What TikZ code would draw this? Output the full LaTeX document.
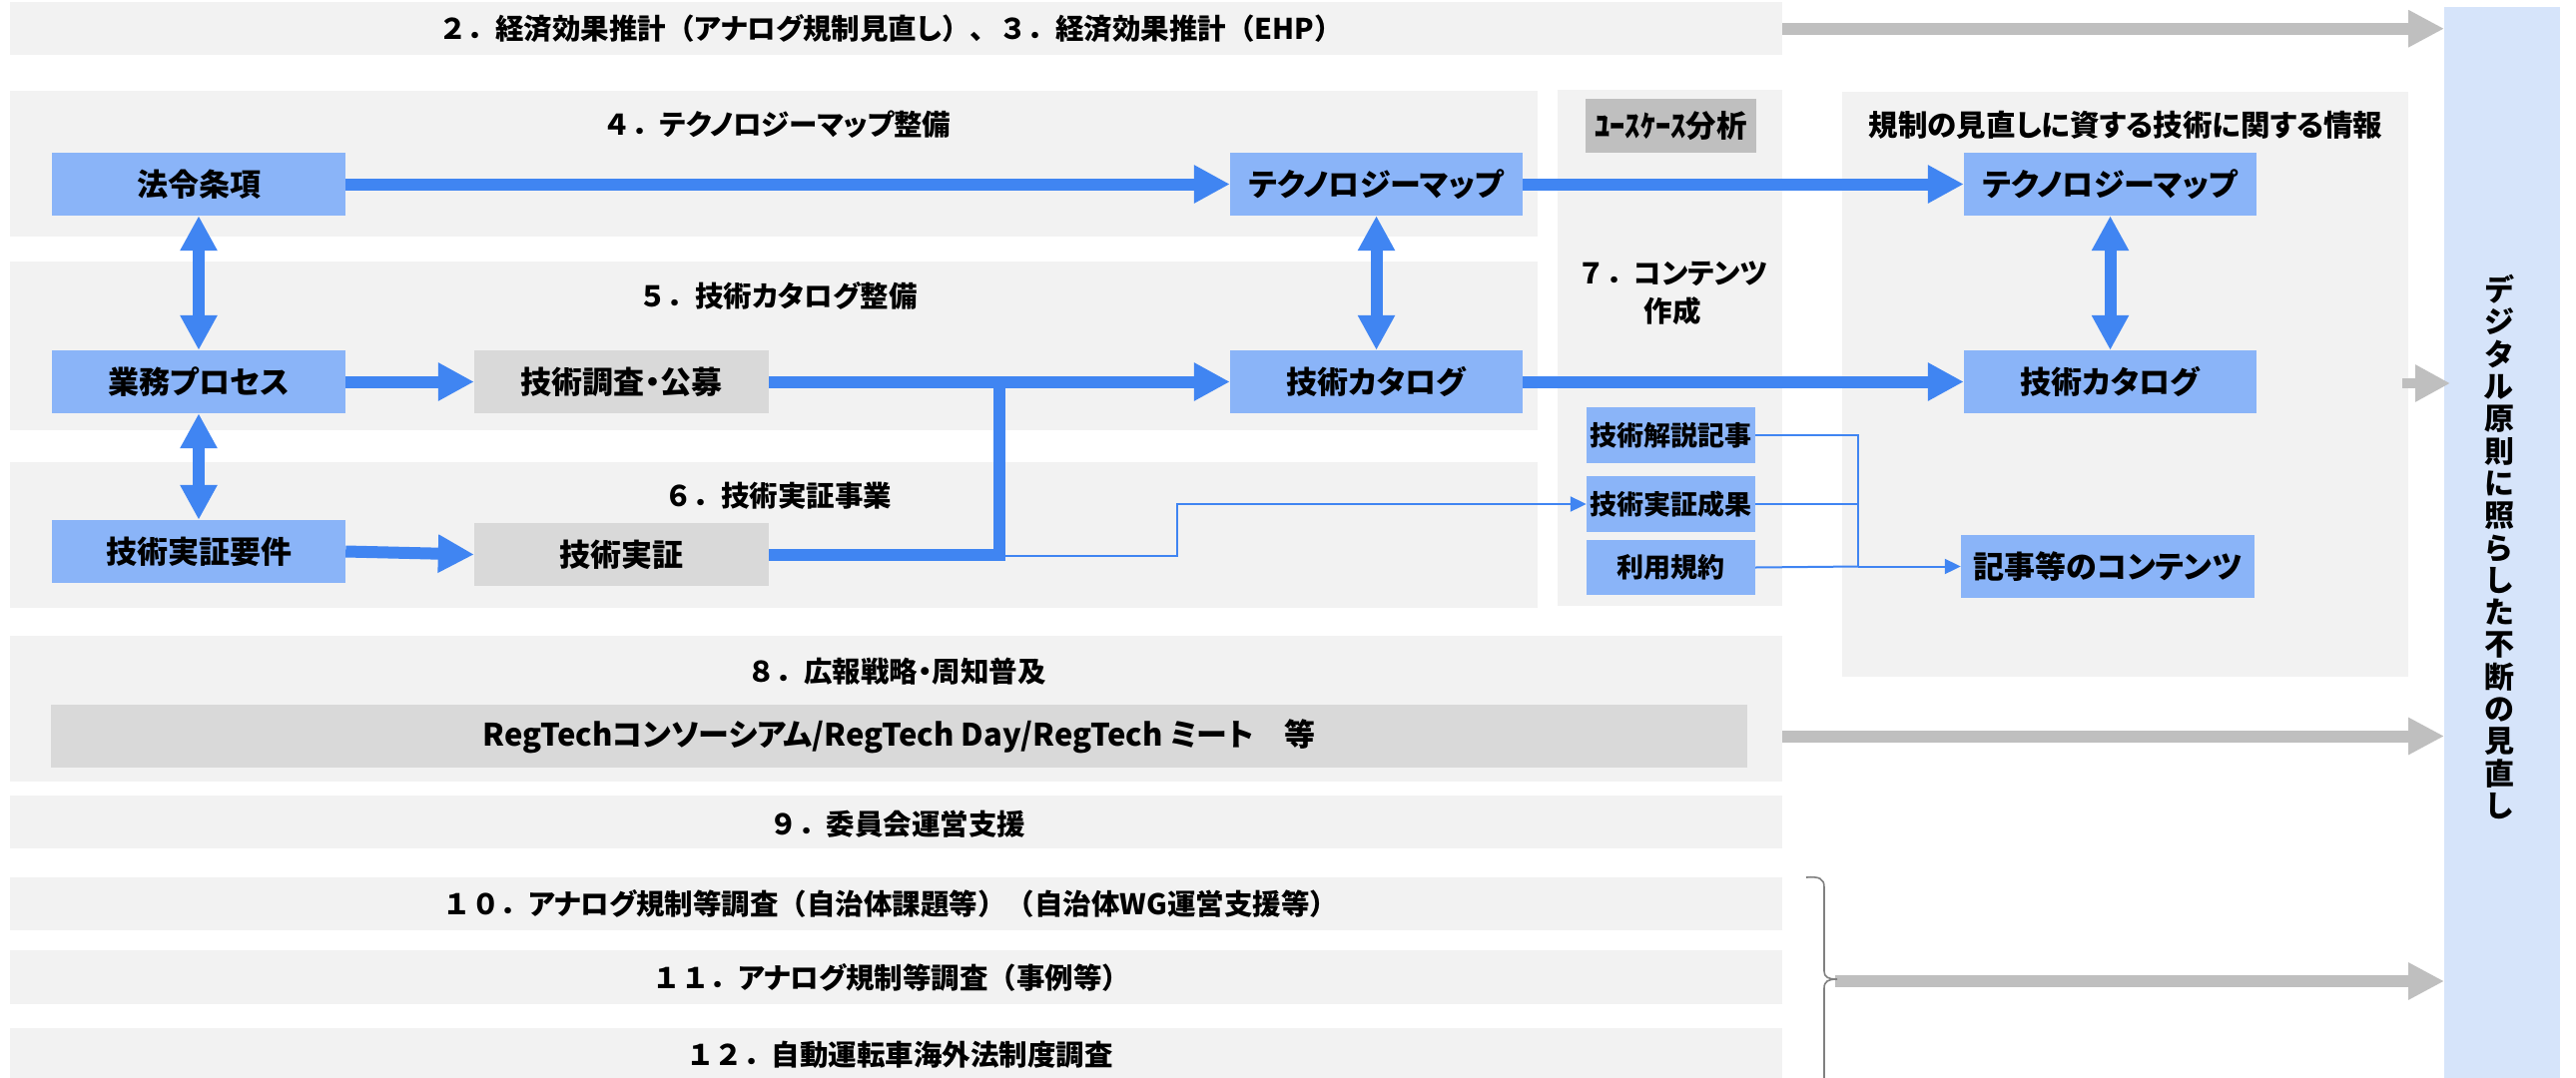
\documentclass[tikz,border=0pt]{standalone}
\usepackage{fontspec}
\setmainfont{Noto Sans CJK JP}[RawFeature=+palt]
\newfontfamily\fw{Noto Sans CJK JP}
\usetikzlibrary{arrows.meta}
\definecolor{bandgray}{HTML}{F2F2F2}
\definecolor{nodeblue}{HTML}{8AB4F8}
\definecolor{arrowblue}{HTML}{4085F2}
\definecolor{boxgray}{HTML}{D9D9D9}
\definecolor{ucgray}{HTML}{BFBFBF}
\definecolor{arrowgray}{HTML}{BFBFBF}
\definecolor{panelblue}{HTML}{D6E4FA}
\definecolor{bracegray}{HTML}{808080}
\newcommand{\fwt}[1]{{\fw #1}}
\begin{document}
\begin{tikzpicture}[x=1pt,y=-1pt,
  band/.style={fill=bandgray, inner sep=0pt, anchor=north west},
  bbox/.style={fill=nodeblue, inner sep=0pt, minimum width=294pt, minimum height=63pt, font=\fontsize{31}{31}\selectfont\bfseries},
  gbox/.style={fill=boxgray, inner sep=0pt, minimum width=295pt, minimum height=63pt, font=\fontsize{31}{31}\selectfont\bfseries},
  sbox/.style={fill=nodeblue, inner sep=0pt, minimum width=169pt, minimum height=56pt, font=\fontsize{27}{27}\selectfont\bfseries},
  ttl/.style={inner sep=0pt, font=\fontsize{28.5}{28.5}\selectfont\bfseries},
  bigarrow/.style={draw=arrowblue, line width=12pt, -{Triangle[length=36pt,width=36pt]}},
  dblarrow/.style={draw=arrowblue, line width=12pt, {Triangle[length=35pt,width=35pt]}-{Triangle[length=35pt,width=35pt]}},
  thickline/.style={draw=arrowblue, line width=12pt, line join=miter},
  thinline/.style={draw=arrowblue, line width=2pt},
  thinarrow/.style={draw=arrowblue, line width=2pt, -{Triangle[length=16pt,width=15pt]}},
  grayarrow/.style={draw=arrowgray, line width=12pt, -{Triangle[length=36pt,width=35pt]}},
]
\useasboundingbox (0,0) rectangle (2580,1079);
\fill[white] (0,0) rectangle (2580,1079);

% bands
\node[band, minimum width=1775pt, minimum height=53pt] (b2) at (10,2) {};
\node[band, minimum width=1530pt, minimum height=146pt] (b4) at (10,91) {};
\node[band, minimum width=1530pt, minimum height=169pt] (b5) at (10,262) {};
\node[band, minimum width=1530pt, minimum height=146pt] (b6) at (10,463) {};
\node[band, minimum width=225pt, minimum height=517pt] (buc) at (1560,90) {};
\node[band, minimum width=567pt, minimum height=586pt] (binfo) at (1845,92) {};
\node[band, minimum width=1775pt, minimum height=146pt] (b8) at (10,637) {};
\node[band, minimum width=1775pt, minimum height=53pt] (b9) at (10,797) {};
\node[band, minimum width=1775pt, minimum height=53pt] (b10) at (10,879) {};
\node[band, minimum width=1775pt, minimum height=54pt] (b11) at (10,952) {};
\node[band, minimum width=1775pt, minimum height=60pt] (b12) at (10,1030) {};
\node[fill=panelblue, inner sep=0pt, anchor=north west, minimum width=116pt, minimum height=1080pt] (panel) at (2448,7) {};

% titles
\node[ttl] (t2) at (892,28) {\fwt{２．}経済効果推計\fwt{（}アナログ規制見直し\fwt{）、３．}経済効果推計\fwt{（}EHP\fwt{）}};
\node[ttl] (t4) at (778,125) {\fwt{４．}テクノロジーマップ整備};
\node[ttl] (t5) at (779,296) {\fwt{５．}技術カタログ整備};
\node[ttl] (t6) at (779,497) {\fwt{６．}技術実証事業};
\node[ttl, align=center, font=\fontsize{28.5}{38}\selectfont\bfseries] (t7) at (1675,294) {\fwt{７．}コンテンツ\\作成};
\node[ttl, font=\fontsize{29.5}{29.5}\selectfont\bfseries] (tinfo) at (2129,125) {規制の見直しに資する技術に関する情報};
\node[ttl] (t8) at (898,673) {\fwt{８．}広報戦略・周知普及};
\node[ttl] (t9) at (899,826) {\fwt{９．}委員会運営支援};
\node[ttl] (t10) at (892,905) {\fwt{１０．}アナログ規制等調査\fwt{（}自治体課題等\fwt{）（}自治体WG運営支援等\fwt{）}};
\node[ttl] (t11) at (893,979) {\fwt{１１．}アナログ規制等調査\fwt{（}事例等\fwt{）}};
\node[ttl] (t12) at (901,1057) {\fwt{１２．}自動運転車海外法制度調査};

% boxes
\node[bbox] (hourei) at (199,184.5) {法令条項};
\node[bbox] (gyomu) at (199,382.5) {業務プロセス};
\node[bbox] (yoken) at (199,552.5) {技術実証要件};
\node[gbox] (chosa) at (622.5,382.5) {技術調査・公募};
\node[gbox] (jissho) at (622.5,555.5) {技術実証};
\node[bbox, minimum width=293pt] (tmap1) at (1378.5,184.5) {テクノロジーマップ};
\node[bbox, minimum width=293pt] (cat1) at (1378.5,382.5) {技術カタログ};
\node[bbox, minimum width=293pt] (tmap2) at (2113.5,184.5) {テクノロジーマップ};
\node[bbox, minimum width=293pt] (cat2) at (2113.5,382.5) {技術カタログ};
\node[fill=ucgray, inner sep=0pt, minimum width=171pt, minimum height=54pt, font=\fontsize{30.5}{30.5}\selectfont\bfseries] (uc) at (1673.5,126) {ﾕｰｽｹｰｽ分析};
\node[sbox] (kaisetsu) at (1673.5,436) {技術解説記事};
\node[sbox] (seika) at (1673.5,505) {技術実証成果};
\node[sbox, minimum height=55pt] (kiyaku) at (1673.5,568.5) {利用規約};
\node[bbox] (kiji) at (2111,567.5) {記事等のコンテンツ};
\node[fill=boxgray, inner sep=0pt, minimum width=1699pt, minimum height=63pt, font=\fontsize{31}{31}\selectfont\bfseries] (regtech) at (900.5,737.5) {RegTechコンソーシアム/RegTech Day/RegTech ミート　等};

% vertical text
\node[inner sep=0pt, align=center, font=\fontsize{30}{32.3}\selectfont\bfseries] (vtext) at (2503,548) {デ\\ジ\\タ\\ル\\原\\則\\に\\照\\ら\\し\\た\\不\\断\\の\\見\\直\\し};

% blue connectors
\draw[bigarrow] (hourei.east) -- (tmap1.west);
\draw[bigarrow] (tmap1.east) -- (tmap2.west);
\draw[bigarrow] (gyomu.east) -- (chosa.west);
\draw[bigarrow] (chosa.east) -- (cat1.west);
\draw[bigarrow] (cat1.east) -- (cat2.west);
\draw[bigarrow] (yoken.east) -- (jissho.west);
\draw[dblarrow] (hourei.south) -- (gyomu.north);
\draw[dblarrow] (gyomu.south) -- (yoken.north);
\draw[dblarrow] (tmap1.south) -- (cat1.north);
\draw[dblarrow] (tmap2.south) -- (cat2.north);
\coordinate (jn) at (1001,382.5);
\draw[thickline] (jissho.east) -| (jn);
\coordinate (tstart) at (1007,557);
\coordinate (tbend) at (1179,557);
\draw[thinarrow] (tstart) -- (tbend) |- (seika.west);
\coordinate (cj) at (1861,567.5);
\draw[thinline] (kaisetsu.east) -| (cj);
\draw[thinline] (seika.east) -- (seika.east -| cj);
\draw[thinline] (kiyaku.east) -- (cj);
\draw[thinarrow] (cj) -- (kiji.west);

% gray arrows
\draw[grayarrow] (b2.east) -- (b2.east -| panel.west);
\draw[grayarrow] (b8.east |- regtech.center) -- (regtech.center -| panel.west);
\coordinate (bracetip) at (1838,983);
\draw[grayarrow] (bracetip) -- (bracetip -| panel.west);
\coordinate (sg) at (2406,384);
\draw[draw=arrowgray, line width=10pt, -{Triangle[length=35pt,width=35pt]}] (sg) -- ([xshift=6pt]sg -| panel.west);

% brace
\draw[bracegray, line width=1.6pt] (1809,879) .. controls (1822,878) and (1827,880) .. (1827,889) -- (1827,973) .. controls (1827,979) and (1831,981) .. (1840,981) .. controls (1831,981) and (1827,983) .. (1827,990) -- (1827,1085);
\end{tikzpicture}
\end{document}
